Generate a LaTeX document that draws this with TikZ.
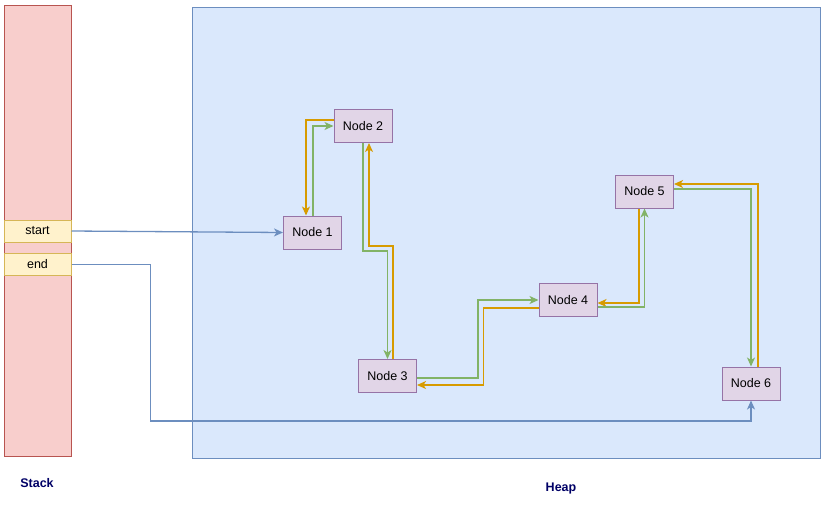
\documentclass[tikz,border=0pt]{standalone}
\usepackage{fontspec}
\setmainfont{Liberation Sans}
\usetikzlibrary{arrows.meta}
\definecolor{stackfill}{HTML}{F8CECC}
\definecolor{stackline}{HTML}{B85450}
\definecolor{heapfill}{HTML}{DAE8FC}
\definecolor{heapline}{HTML}{6C8EBF}
\definecolor{varfill}{HTML}{FFF2CC}
\definecolor{varline}{HTML}{D6B656}
\definecolor{nodefill}{HTML}{E1D5E7}
\definecolor{nodeline}{HTML}{9673A6}
\definecolor{orangeline}{HTML}{D79B00}
\definecolor{greenline}{HTML}{82B366}
\definecolor{navy}{HTML}{000066}
\tikzset{
  listnode/.style={draw=nodeline, fill=nodefill, line width=1pt, minimum width=58pt, minimum height=33pt, inner sep=0pt, font=\fontsize{12.5}{14}\selectfont},
  varbox/.style={draw=varline, fill=varfill, line width=1pt, minimum width=67pt, minimum height=22pt, inner sep=0pt, font=\fontsize{12.5}{14}\selectfont},
  region/.style={line width=1pt, inner sep=0pt, anchor=north west},
  title/.style={text=navy, font=\bfseries\fontsize{12.5}{14}\selectfont},
  link/.style={line width=1.3pt},
  nextlink/.style={link, draw=greenline, -{Stealth[length=9pt,width=8pt,inset=2.5pt,fill=greenline]}},
  prevlink/.style={link, draw=orangeline, -{Stealth[length=9pt,width=8pt,inset=2.5pt,fill=orangeline]}},
  ptrlink/.style={link, draw=heapline, -{Stealth[length=9pt,width=8pt,inset=2.5pt,fill=heapline]}}
}
\begin{document}
\begin{tikzpicture}[x=1pt,y=-1pt]
\useasboundingbox (0,0) rectangle (826,509);
% regions
\node[region, draw=stackline, fill=stackfill, minimum width=67pt, minimum height=451pt] (stack) at (4,5) {};
\node[region, draw=heapline, fill=heapfill, minimum width=628pt, minimum height=451pt] (heap) at (192,7) {};
\node[title] (stacklbl) at (37,483) {Stack};
\node[title] (heaplbl) at (561,488) {Heap};
% stack variables
\node[varbox] (start) at (37.5,231) {start};
\node[varbox] (end) at (37.5,264.5) {end};
% list nodes
\node[listnode] (n1) at (312.5,232.5) {Node 1};
\node[listnode] (n2) at (363,126) {Node 2};
\node[listnode] (n3) at (387.5,376) {Node 3};
\node[listnode] (n4) at (568,300) {Node 4};
\node[listnode] (n5) at (644.5,191.5) {Node 5};
\node[listnode] (n6) at (751,383.5) {Node 6};
% pointers from stack
\draw[ptrlink] (start.east) -- (n1.west);
\draw[ptrlink] (end.east) -- ++(79,0) -- ++(0,156.5) -| (n6.south);
% node 1 <-> node 2
\draw[prevlink] ([yshift=6pt]n2.west) -| ([xshift=-6.5pt]n1.north);
\draw[nextlink] ([xshift=0.5pt]n1.north) |- (n2.west);
% node 2 <-> node 3
\draw[nextlink] (n2.south) -- ++(0,108) -| (n3.north);
\draw[prevlink] ([xshift=5.5pt]n3.north) -- ++(0,-113) -| ([xshift=6pt]n2.south);
% node 3 <-> node 4
\draw[nextlink] ([yshift=-2pt]n3.east) -- ++(61,0) |- (n4.west);
\draw[prevlink] ([yshift=-8pt]n4.west) -- ++(-55,0) |- ([yshift=-9pt]n3.east);
% node 4 <-> node 5
\draw[prevlink] ([xshift=-5.5pt]n5.south) |- ([yshift=-3pt]n4.east);
\draw[nextlink] ([yshift=-7pt]n4.east) -| (n5.south);
% node 5 <-> node 6
\draw[prevlink] ([xshift=7pt]n6.north) |- ([yshift=7.5pt]n5.east);
\draw[nextlink] ([yshift=2.5pt]n5.east) -| (n6.north);
\end{tikzpicture}
\end{document}
